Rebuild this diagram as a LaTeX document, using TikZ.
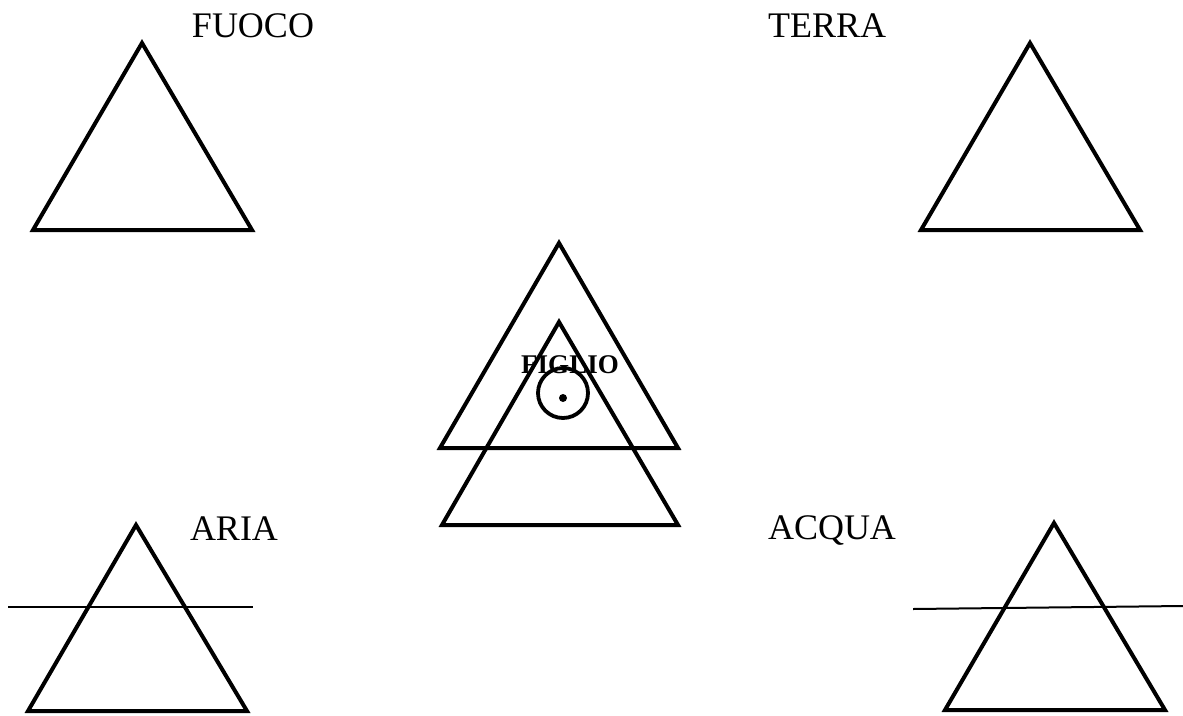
\documentclass[tikz,border=0pt]{standalone}
\usepackage{fontspec}
\setmainfont{Liberation Serif}
\usetikzlibrary{positioning}

\begin{document}
\begin{tikzpicture}[x=1pt, y=-1pt,
  prism/.style={draw=black, line width=4pt, line join=miter},
  cutline/.style={draw=black, line width=2pt},
  elem/.style={font=\fontsize{36}{40}\selectfont, inner sep=0pt, anchor=base}]
  \useasboundingbox (0,0) rectangle (1183,715);

  % fuoco
  \draw[prism] (142,43) -- (252,230) -- (33,230) -- cycle;
  \node[elem] (fuoco) at (253,37) {FUOCO};

  % terra
  \draw[prism] (1030,43) -- (1140,230) -- (921,230) -- cycle;
  \node[elem] (terra) at (827,37) {TERRA};

  % figlio
  \draw[prism] (559,243) -- (678,448) -- (440,448) -- cycle;
  \draw[prism] (559,322) -- (678,525) -- (442,525) -- cycle;
  \node[font=\fontsize{27}{30}\selectfont\bfseries, inner sep=0pt, anchor=base] (figlio) at (570,373) {FIGLIO};
  \draw[line width=3.8pt] (563,393) circle[radius=25];
  \fill (563,398) circle[radius=4];

  % aria
  \draw[prism] (136,525) -- (247,711) -- (28,711) -- cycle;
  \draw[cutline] (8,607) -- (253,607);
  \node[elem] (aria) at (234,540) {ARIA};

  % acqua
  \draw[prism] (1054,523) -- (1165,710) -- (945,710) -- cycle;
  \draw[cutline] (913,609) -- (1183,606);
  \node[elem] (acqua) at (832,539) {ACQUA};
\end{tikzpicture}
\end{document}
